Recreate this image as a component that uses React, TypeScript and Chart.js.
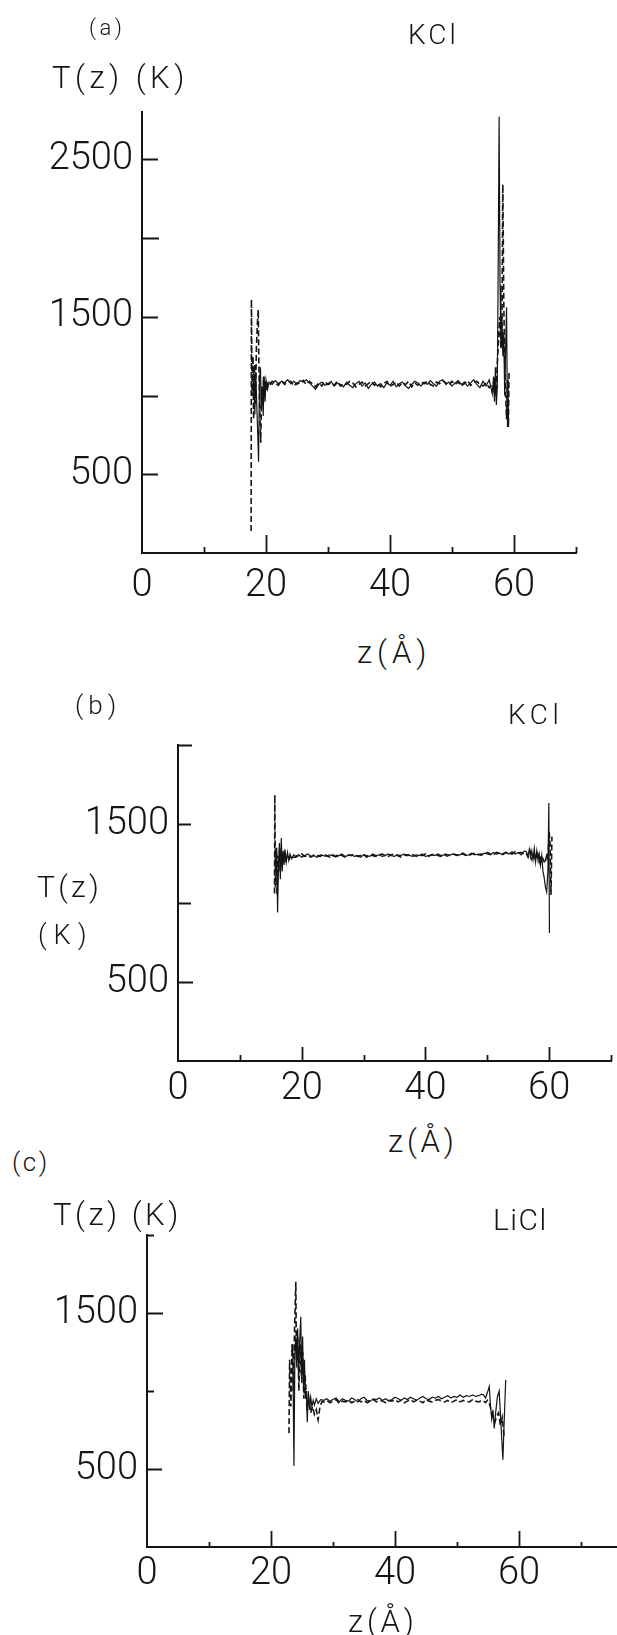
import React, { useEffect, useRef } from "react";
import { Chart, registerables } from "chart.js";

Chart.register(...registerables);

// ---------- axis ticks and tick labels ----------
const X_TICKS = [0, 10, 20, 30, 40, 50, 60, 70];
const X_TICK_LABELS = [0, 20, 40, 60];
const Y_TICKS_A = [0, 500, 1000, 1500, 2000, 2500];
const Y_TICKS_BC = [0, 500, 1000, 1500, 2000];
const Y_TICK_LABELS_A = [500, 1500, 2500];
const Y_TICK_LABELS_B = [500, 1500];
const Y_TICK_LABELS_C = [500, 1500];

// ---------- panel (a) KCl ----------
const A_FLAT_Z = [20.5, 21, 21.5, 22, 22.5, 23, 23.5, 24, 24.5, 25, 25.5, 26, 26.5, 27, 27.5, 28, 28.5, 29, 29.5, 30, 30.5, 31, 31.5, 32, 32.5, 33, 33.5, 34, 34.5, 35, 35.5, 36, 36.5, 37, 37.5, 38, 38.5, 39, 39.5, 40, 40.5, 41, 41.5, 42, 42.5, 43, 43.5, 44, 44.5, 45, 45.5, 46, 46.5, 47, 47.5, 48, 48.5, 49, 49.5, 50, 50.5, 51, 51.5, 52, 52.5, 53, 53.5, 54, 54.5, 55, 55.5, 56, 56.5];
const A_SOLID_LEFT_Z = [17.9, 18.05, 18.2, 18.35, 18.5, 18.65, 18.8, 18.95, 19.1, 19.25, 19.4, 19.55, 19.7, 19.85, 20.0, 20.25];
const A_SOLID_LEFT_T = [1000, 1180, 880, 1150, 950, 780, 580, 1100, 1180, 900, 1060, 870, 1120, 960, 1100, 1040];
const A_SOLID_FLAT_T = [1085, 1070, 1095, 1075, 1090, 1080, 1100, 1075, 1090, 1070, 1095, 1085, 1100, 1080, 1060, 1040, 1070, 1085, 1065, 1075, 1090, 1060, 1080, 1070, 1055, 1085, 1065, 1050, 1075, 1090, 1060, 1080, 1045, 1070, 1085, 1060, 1075, 1050, 1080, 1065, 1090, 1055, 1075, 1085, 1060, 1045, 1070, 1090, 1080, 1060, 1085, 1070, 1095, 1075, 1060, 1090, 1100, 1070, 1085, 1060, 1080, 1095, 1070, 1085, 1060, 1080, 1100, 1070, 1050, 1090, 1060, 1100, 1010];
const A_SOLID_RIGHT_Z = [56.7, 56.85, 57.0, 57.15, 57.3, 57.45, 57.6, 57.75, 57.9, 58.05, 58.2, 58.35, 58.5, 58.65, 58.8, 58.95, 59.05];
const A_SOLID_RIGHT_T = [1120, 960, 1180, 940, 1050, 1800, 2770, 1700, 1300, 1500, 1250, 1400, 1000, 1300, 1560, 800, 1100];
const A_DASH_LEFT_Z = [17.6, 17.65, 17.75, 17.9, 18.0, 18.15, 18.3, 18.45, 18.6, 18.75, 18.85, 19.0, 19.15, 19.3, 19.45, 19.6, 19.75, 19.9, 20.1, 20.3];
const A_DASH_LEFT_T = [140, 1610, 1000, 1250, 850, 1200, 950, 1300, 1450, 1545, 1200, 900, 700, 1050, 960, 1120, 1000, 1090, 1030, 1075];
const A_DASH_FLAT_T = [1060, 1090, 1080, 1065, 1095, 1070, 1085, 1090, 1060, 1080, 1075, 1095, 1070, 1090, 1075, 1055, 1080, 1060, 1090, 1070, 1080, 1065, 1090, 1060, 1075, 1070, 1090, 1080, 1055, 1070, 1085, 1060, 1075, 1090, 1065, 1080, 1055, 1075, 1090, 1060, 1070, 1085, 1060, 1080, 1070, 1090, 1055, 1080, 1065, 1085, 1075, 1090, 1070, 1060, 1085, 1075, 1095, 1080, 1065, 1090, 1070, 1085, 1060, 1075, 1095, 1065, 1080, 1090, 1070, 1060, 1080, 1050, 1070];
const A_DASH_RIGHT_Z = [56.7, 56.9, 57.1, 57.3, 57.5, 57.7, 57.9, 58.05, 58.2, 58.35, 58.5, 58.65, 58.8, 58.95, 59.1, 59.2];
const A_DASH_RIGHT_T = [1040, 1110, 1000, 1200, 1350, 1500, 1300, 1400, 2340, 1600, 1200, 1000, 850, 1100, 800, 1150];

// ---------- panel (b) KCl ----------
const B_FLAT_Z = [19, 19.5, 20, 20.5, 21, 21.5, 22, 22.5, 23, 23.5, 24, 24.5, 25, 25.5, 26, 26.5, 27, 27.5, 28, 28.5, 29, 29.5, 30, 30.5, 31, 31.5, 32, 32.5, 33, 33.5, 34, 34.5, 35, 35.5, 36, 36.5, 37, 37.5, 38, 38.5, 39, 39.5, 40, 40.5, 41, 41.5, 42, 42.5, 43, 43.5, 44, 44.5, 45, 45.5, 46, 46.5, 47, 47.5, 48, 48.5, 49, 49.5, 50, 50.5, 51, 51.5, 52, 52.5, 53, 53.5, 54, 54.5, 55, 55.5, 56];
const B_SOLID_LEFT_Z = [15.8, 15.95, 16.1, 16.25, 16.4, 16.55, 16.7, 16.85, 17.0, 17.15, 17.3, 17.5, 17.7, 17.9, 18.1, 18.4, 18.7];
const B_SOLID_LEFT_T = [1200, 1350, 940, 1250, 1380, 1150, 1411, 1200, 1330, 1240, 1340, 1260, 1320, 1270, 1310, 1280, 1305];
const B_SOLID_FLAT_T = [1295, 1305, 1290, 1300, 1310, 1295, 1300, 1290, 1305, 1300, 1295, 1305, 1300, 1290, 1300, 1310, 1295, 1300, 1305, 1295, 1300, 1290, 1305, 1300, 1295, 1310, 1300, 1305, 1295, 1300, 1310, 1300, 1295, 1305, 1300, 1310, 1305, 1300, 1295, 1305, 1300, 1310, 1295, 1300, 1305, 1300, 1310, 1300, 1305, 1295, 1305, 1310, 1300, 1305, 1310, 1300, 1305, 1315, 1305, 1310, 1300, 1315, 1310, 1305, 1320, 1310, 1315, 1305, 1320, 1310, 1325, 1310, 1320, 1305, 1330];
const B_SOLID_RIGHT_Z = [56.3, 56.6, 56.8, 57.0, 57.2, 57.4, 57.6, 57.8, 58.0, 58.2, 58.4, 58.6, 58.8, 59.0, 59.2, 59.4, 59.6, 59.8, 59.95, 60.05];
const B_SOLID_RIGHT_T = [1325, 1300, 1340, 1290, 1330, 1275, 1345, 1260, 1330, 1270, 1310, 1240, 1300, 1200, 1160, 1100, 1070, 1200, 1633, 810];
const B_DASH_LEFT_Z = [15.6, 15.65, 15.75, 15.9, 16.0, 16.15, 16.3, 16.45, 16.6, 16.8, 17.0, 17.2, 17.4, 17.7, 18.0, 18.3, 18.6];
const B_DASH_LEFT_T = [1060, 1684, 1100, 1350, 1050, 1300, 1200, 1350, 1220, 1320, 1260, 1310, 1270, 1300, 1280, 1300, 1290];
const B_DASH_FLAT_T = [1290, 1300, 1310, 1295, 1300, 1290, 1305, 1300, 1295, 1310, 1300, 1290, 1305, 1295, 1310, 1300, 1290, 1305, 1300, 1310, 1295, 1300, 1310, 1290, 1305, 1300, 1295, 1305, 1310, 1300, 1295, 1305, 1310, 1300, 1290, 1305, 1300, 1310, 1305, 1295, 1305, 1300, 1310, 1295, 1305, 1310, 1300, 1295, 1310, 1305, 1300, 1310, 1305, 1300, 1315, 1305, 1300, 1310, 1315, 1305, 1310, 1305, 1320, 1310, 1305, 1320, 1315, 1310, 1320, 1315, 1310, 1325, 1315, 1320, 1310];
const B_DASH_RIGHT_Z = [56.3, 56.6, 56.9, 57.2, 57.5, 57.8, 58.1, 58.4, 58.7, 59.0, 59.3, 59.6, 59.8, 60.0, 60.15, 60.3, 60.45];
const B_DASH_RIGHT_T = [1315, 1290, 1330, 1280, 1320, 1270, 1330, 1260, 1300, 1280, 1250, 1300, 1280, 1450, 1380, 1050, 1420];

// ---------- panel (c) LiCl ----------
const C_FLAT_Z = [28.5, 29, 29.5, 30, 30.5, 31, 31.5, 32, 32.5, 33, 33.5, 34, 34.5, 35, 35.5, 36, 36.5, 37, 37.5, 38, 38.5, 39, 39.5, 40, 40.5, 41, 41.5, 42, 42.5, 43, 43.5, 44, 44.5, 45, 45.5, 46, 46.5, 47, 47.5, 48, 48.5, 49, 49.5, 50, 50.5, 51, 51.5, 52, 52.5, 53, 53.5, 54];
const C_SOLID_LEFT_Z = [23.3, 23.5, 23.7, 23.85, 24.0, 24.15, 24.3, 24.45, 24.6, 24.8, 24.95, 25.1, 25.25, 25.4, 25.55, 25.7, 25.85, 26.0, 26.2, 26.4, 26.6, 26.8, 27.0, 27.3, 27.6, 28.0];
const C_SOLID_LEFT_T = [1250, 1300, 520, 1250, 1350, 1150, 1400, 1100, 1300, 1476, 1050, 1350, 1000, 1200, 950, 1000, 800, 1000, 880, 960, 900, 940, 910, 950, 920, 945];
const C_SOLID_FLAT_T = [940, 950, 935, 945, 955, 930, 950, 940, 935, 955, 945, 930, 950, 960, 940, 935, 950, 945, 955, 940, 950, 935, 945, 960, 950, 940, 955, 945, 960, 950, 940, 955, 965, 950, 945, 960, 955, 965, 950, 960, 970, 955, 965, 960, 975, 960, 970, 965, 975, 965, 970, 980];
const C_SOLID_RIGHT_Z = [54.3, 54.6, 54.9, 55.2, 55.4, 55.6, 55.8, 56.0, 56.2, 56.5, 56.8, 57.0, 57.2, 57.4, 57.6, 57.85];
const C_SOLID_RIGHT_T = [975, 955, 990, 1030, 900, 820, 880, 760, 850, 960, 1000, 850, 700, 560, 800, 1070];
const C_DASH_LEFT_Z = [22.9, 23.0, 23.2, 23.4, 23.6, 23.8, 24.0, 24.1, 24.3, 24.5, 24.7, 24.9, 25.1, 25.3, 25.5, 25.8, 26.1, 26.4, 26.7, 27.0, 27.3, 27.6, 27.9, 28.2];
const C_DASH_LEFT_T = [730, 1200, 900, 1300, 1000, 1400, 1700, 1200, 1350, 1000, 1300, 1100, 1250, 950, 1100, 900, 950, 860, 900, 850, 880, 815, 900, 930];
const C_DASH_FLAT_T = [930, 940, 925, 935, 945, 920, 935, 930, 940, 925, 935, 945, 930, 940, 925, 935, 945, 930, 940, 935, 925, 940, 935, 945, 930, 940, 925, 935, 945, 930, 940, 935, 925, 945, 935, 930, 940, 945, 935, 930, 940, 925, 935, 945, 930, 940, 935, 930, 945, 935, 930, 940];
const C_DASH_RIGHT_Z = [54.3, 54.6, 54.9, 55.2, 55.5, 55.8, 56.1, 56.4, 56.7, 57.0, 57.3, 57.6];
const C_DASH_RIGHT_T = [935, 925, 940, 920, 880, 820, 800, 840, 860, 780, 830, 700];

// ---------- helpers ----------
function zip(z: number[], t: number[]) {
  const n = Math.min(z.length, t.length);
  const out: { x: number; y: number }[] = [];
  for (let i = 0; i < n; i++) out.push({ x: z[i], y: t[i] });
  return out;
}

const INK = "#151515";
const FONT = "Roboto, 'Liberation Sans', Arial, sans-serif";

const inwardTicks = {
  id: "inwardTicks",
  afterDraw(chart: any, _args: any, opts: any) {
    const { ctx, chartArea } = chart;
    const xs = chart.scales.x;
    const ys = chart.scales.y;
    ctx.save();
    ctx.strokeStyle = INK;
    ctx.lineWidth = 1.8;
    ctx.beginPath();
    xs.ticks.forEach((t: any) => {
      if (t.value === 0) return;
      const len = opts.xMajor.includes(t.value) ? opts.xMajorLen : opts.xMinorLen;
      const px = Math.round(xs.getPixelForValue(t.value)) + 0.5;
      ctx.moveTo(px, chartArea.bottom);
      ctx.lineTo(px, chartArea.bottom - len);
    });
    ys.ticks.forEach((t: any) => {
      if (t.value === 0) return;
      const len = opts.yLen[t.value] ?? 14;
      const py = Math.round(ys.getPixelForValue(t.value)) + 0.5;
      ctx.moveTo(chartArea.left, py);
      ctx.lineTo(chartArea.left + len, py);
    });
    ctx.stroke();
    ctx.restore();
  },
};

type PanelCfg = {
  solid: { x: number; y: number }[];
  dashed: { x: number; y: number }[];
  width: number;
  height: number;
  padTop: number;
  padRight: number;
  yAxisW: number;
  xAxisH: number;
  xMax: number;
  yMax: number;
  yTicks: number[];
  yLabels: number[];
  xPad: number;
  tickOpts: any;
};

function Panel({ cfg, top }: { cfg: PanelCfg; top: number }) {
  const ref = useRef<HTMLCanvasElement | null>(null);
  useEffect(() => {
    if (!ref.current) return;
    const tickFont = { family: FONT, size: 38, weight: "300" as any };
    const chart = new Chart(ref.current, {
      type: "line",
      data: {
        datasets: [
          {
            data: cfg.solid,
            borderColor: INK,
            borderWidth: 1.2,
            pointRadius: 0,
            fill: false,
            tension: 0,
          },
          {
            data: cfg.dashed,
            borderColor: INK,
            borderWidth: 1.6,
            borderDash: [6, 3],
            pointRadius: 0,
            fill: false,
            tension: 0,
          },
        ],
      },
      options: {
        responsive: false,
        animation: false,
        events: [],
        layout: { padding: { left: 0, top: cfg.padTop, right: cfg.padRight, bottom: 0 } },
        plugins: {
          legend: { display: false },
          tooltip: { enabled: false },
          title: { display: false },
          inwardTicks: cfg.tickOpts,
        } as any,
        scales: {
          x: {
            type: "linear",
            position: "bottom",
            min: 0,
            max: cfg.xMax,
            afterBuildTicks: (s: any) => {
              s.ticks = X_TICKS.map((v) => ({ value: v }));
            },
            afterFit: (s: any) => {
              s.height = cfg.xAxisH;
            },
            grid: { display: true, drawOnChartArea: false, drawTicks: false },
            border: { display: true, color: INK, width: 2 },
            ticks: {
              autoSkip: false,
              maxRotation: 0,
              minRotation: 0,
              padding: cfg.xPad,
              color: INK,
              font: tickFont,
              callback: (v: any) => (X_TICK_LABELS.includes(Number(v)) ? String(v) : ""),
            },
          },
          y: {
            type: "linear",
            min: 0,
            max: cfg.yMax,
            afterBuildTicks: (s: any) => {
              s.ticks = cfg.yTicks.map((v) => ({ value: v }));
            },
            afterFit: (s: any) => {
              s.width = cfg.yAxisW;
            },
            grid: { display: true, drawOnChartArea: false, drawTicks: false },
            border: { display: true, color: INK, width: 2 },
            ticks: {
              autoSkip: false,
              padding: 9,
              color: INK,
              font: tickFont,
              callback: (v: any) => (cfg.yLabels.includes(Number(v)) ? String(v) : ""),
            },
          },
        },
      } as any,
      plugins: [inwardTicks as any],
    });
    return () => chart.destroy();
  }, [cfg]);
  return (
    <canvas
      ref={ref}
      width={cfg.width}
      height={cfg.height}
      style={{ position: "absolute", left: 0, top, width: cfg.width, height: cfg.height }}
    />
  );
}

const PANEL_A: PanelCfg = {
  solid: zip([...A_SOLID_LEFT_Z, ...A_FLAT_Z, ...A_SOLID_RIGHT_Z], [...A_SOLID_LEFT_T, ...A_SOLID_FLAT_T, ...A_SOLID_RIGHT_T]),
  dashed: zip([...A_DASH_LEFT_Z, ...A_FLAT_Z, ...A_DASH_RIGHT_Z], [...A_DASH_LEFT_T, ...A_DASH_FLAT_T, ...A_DASH_RIGHT_T]),
  width: 617,
  height: 620,
  padTop: 112,
  padRight: 41,
  yAxisW: 142,
  xAxisH: 67,
  xMax: 70,
  yMax: 2800,
  yTicks: Y_TICKS_A,
  yLabels: Y_TICK_LABELS_A,
  xPad: 11,
  tickOpts: { xMajor: [20, 40, 60], xMajorLen: 18, xMinorLen: 6, yLen: { 500: 16, 1000: 16, 1500: 16, 2000: 17, 2500: 16 } },
};

const PANEL_B: PanelCfg = {
  solid: zip([...B_SOLID_LEFT_Z, ...B_FLAT_Z, ...B_SOLID_RIGHT_Z], [...B_SOLID_LEFT_T, ...B_SOLID_FLAT_T, ...B_SOLID_RIGHT_T]),
  dashed: zip([...B_DASH_LEFT_Z, ...B_FLAT_Z, ...B_DASH_RIGHT_Z], [...B_DASH_LEFT_T, ...B_DASH_FLAT_T, ...B_DASH_RIGHT_T]),
  width: 617,
  height: 430,
  padTop: 65,
  padRight: 5,
  yAxisW: 178,
  xAxisH: 49,
  xMax: 70,
  yMax: 2000,
  yTicks: Y_TICKS_BC,
  yLabels: Y_TICK_LABELS_B,
  xPad: 6,
  tickOpts: { xMajor: [20, 40, 60], xMajorLen: 14, xMinorLen: 6, yLen: { 500: 15, 1000: 13, 1500: 13, 2000: 14 } },
};

const PANEL_C: PanelCfg = {
  solid: zip([...C_SOLID_LEFT_Z, ...C_FLAT_Z, ...C_SOLID_RIGHT_Z], [...C_SOLID_LEFT_T, ...C_SOLID_FLAT_T, ...C_SOLID_RIGHT_T]),
  dashed: zip([...C_DASH_LEFT_Z, ...C_FLAT_Z, ...C_DASH_RIGHT_Z], [...C_DASH_LEFT_T, ...C_DASH_FLAT_T, ...C_DASH_RIGHT_T]),
  width: 617,
  height: 455,
  padTop: 55,
  padRight: 0,
  yAxisW: 147,
  xAxisH: 88,
  xMax: 75.8,
  yMax: 2000,
  yTicks: Y_TICKS_BC,
  yLabels: Y_TICK_LABELS_C,
  xPad: 5,
  tickOpts: { xMajor: [20, 40, 60], xMajorLen: 16, xMinorLen: 5, yLen: { 500: 15, 1000: 7, 1500: 16, 2000: 7 } },
};

type Lbl = { t: string; x: number; b: number; fs: number; ls: number };
const LABELS: Lbl[] = [
  { t: "(a)", x: 89, b: 36, fs: 22, ls: 3.5 },
  { t: "KCl", x: 408, b: 45, fs: 28, ls: 3 },
  { t: "T(z) (K)", x: 52, b: 88, fs: 31, ls: 4.5 },
  { t: "z(Å)", x: 357, b: 663, fs: 31, ls: 5 },
  { t: "(b)", x: 75, b: 714, fs: 26, ls: 5 },
  { t: "KCl", x: 508, b: 725, fs: 28, ls: 4.5 },
  { t: "T(z)", x: 37, b: 897, fs: 30, ls: 3.3 },
  { t: "(K)", x: 38, b: 945, fs: 27, ls: 7 },
  { t: "z(Å)", x: 388, b: 1152, fs: 31, ls: 3.8 },
  { t: "(c)", x: 12, b: 1171, fs: 26, ls: 2.5 },
  { t: "T(z) (K)", x: 53, b: 1225, fs: 31, ls: 3.5 },
  { t: "LiCl", x: 493, b: 1230, fs: 30, ls: 1.5 },
  { t: "z(Å)", x: 348, b: 1632, fs: 31, ls: 3.8 },
];

export default function App() {
  return (
    <div
      style={{
        position: "absolute",
        left: 0,
        top: 0,
        width: 617,
        height: 1635,
        background: "#fff",
        overflow: "hidden",
      }}
    >
      <Panel cfg={PANEL_A} top={0} />
      <Panel cfg={PANEL_B} top={680} />
      <Panel cfg={PANEL_C} top={1180} />
      {LABELS.map((l, i) => (
        <div
          key={i}
          style={{
            position: "absolute",
            left: l.x,
            top: l.b - 0.842 * l.fs,
            fontFamily: FONT,
            fontWeight: 300,
            fontSize: l.fs,
            lineHeight: `${l.fs}px`,
            letterSpacing: l.ls,
            color: INK,
            whiteSpace: "pre",
          }}
        >
          {l.t}
        </div>
      ))}
    </div>
  );
}
